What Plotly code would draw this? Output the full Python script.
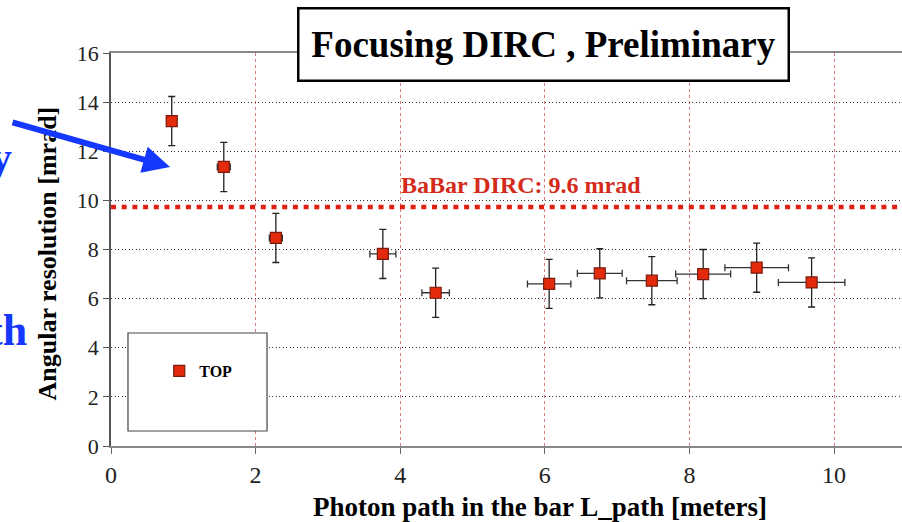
import plotly.graph_objects as go

# ---- data ----
path_len = [0.84, 1.56, 2.28, 3.76, 4.49, 6.06, 6.76, 7.48, 8.19, 8.93, 9.69]
resolution = [13.23, 11.36, 8.47, 7.82, 6.24, 6.60, 7.03, 6.73, 7.00, 7.26, 6.66]
res_err = [1.0, 1.0, 1.0, 1.0, 1.0, 1.0, 1.0, 0.98, 1.0, 1.0, 1.0]
path_err = [0.0, 0.09, 0.09, 0.18, 0.19, 0.30, 0.31, 0.35, 0.38, 0.44, 0.46]
babar_level = 9.73
x_ticks = [0, 2, 4, 6, 8, 10]
y_ticks = [0, 2, 4, 6, 8, 10, 12, 14, 16]

SERIF = "Liberation Serif, Times New Roman, serif"
RED = "#e42a0c"
BLUE = "#1538ff"

fig = go.Figure()
fig.add_trace(go.Scatter(
    x=path_len, y=resolution, mode="markers", name="TOP",
    marker=dict(symbol="square", size=11, color=RED,
                line=dict(color="#7a1a0a", width=1.2)),
    error_y=dict(type="data", array=res_err, color="#222", thickness=1.3, width=3.5),
    error_x=dict(type="data", array=path_err, color="#333", thickness=1.3, width=3.5),
))

# BaBar reference line
fig.add_shape(type="line", xref="paper", yref="y", x0=0, x1=1,
              y0=babar_level, y1=babar_level,
              line=dict(color="#e02010", width=4.5, dash="5px,5.7px"))
fig.add_annotation(xref="x", yref="y", x=5.67, y=10.63, showarrow=False,
                   text="<b>BaBar DIRC: 9.6 mrad</b>",
                   font=dict(family=SERIF, size=24, color="#d42a1a"))

# legend frame
fig.add_shape(type="rect", xref="x", yref="y", x0=0.235, x1=2.158, y0=0.61, y1=4.60,
              line=dict(color="#444", width=1.2), fillcolor="white", layer="above")

# title box
fig.add_annotation(xref="paper", yref="paper", x=0.5474, y=1.0216,
                   xanchor="center", yanchor="middle", showarrow=False,
                   text="<b>Focusing DIRC , Preliminary</b>",
                   font=dict(family=SERIF, size=37, color="black"),
                   bgcolor="white", bordercolor="black", borderwidth=2.5,
                   width=488, height=70, borderpad=0)

# axis titles
fig.add_annotation(xref="paper", yref="paper", x=-0.0809, y=0.49,
                   xanchor="center", yanchor="middle", showarrow=False, textangle=-90,
                   text="<b>Angular resolution [mrad]</b>",
                   font=dict(family=SERIF, size=26, color="black"))
fig.add_annotation(xref="paper", yref="paper", x=0.5424, y=-0.1552,
                   xanchor="center", yanchor="middle", showarrow=False,
                   text="<b>Photon path in the bar L_path [meters]</b>",
                   font=dict(family=SERIF, size=27, color="black"))

# blue slide fragments and arrow
fig.add_annotation(xref="paper", yref="paper", x=-0.1220, y=0.734,
                   xanchor="right", yanchor="middle", showarrow=False,
                   text="<b>y</b>", font=dict(family=SERIF, size=44, color=BLUE))
fig.add_annotation(xref="paper", yref="paper", x=-0.1037, y=0.295,
                   xanchor="right", yanchor="middle", showarrow=False,
                   text="<b>th</b>", font=dict(family=SERIF, size=44, color=BLUE))
fig.add_annotation(xref="paper", yref="paper", x=0.0746, y=0.7099,
                   ax=-159, ay=-45, text="", showarrow=True,
                   arrowhead=2, arrowsize=0.9, arrowwidth=6, arrowcolor=BLUE)

fig.update_layout(
    width=902, height=522,
    margin=dict(l=111, r=0, t=53, b=76),
    paper_bgcolor="white", plot_bgcolor="white",
    showlegend=True,
    legend=dict(x=0.061, y=0.191, xanchor="left", yanchor="middle",
                bgcolor="rgba(0,0,0,0)", borderwidth=0, itemwidth=30,
                font=dict(family=SERIF, size=16, color="black", weight="bold")),
    font=dict(family=SERIF),
)
fig.update_xaxes(range=[0, 10.94], tickvals=x_ticks, ticktext=[str(v) for v in x_ticks],
                 showline=True, linecolor="#888", linewidth=2, mirror=True,
                 ticks="outside", ticklen=6, tickcolor="#666",
                 showgrid=True, gridcolor="#e07a7a", griddash="dot", gridwidth=1,
                 zeroline=False, tickfont=dict(family=SERIF, size=24, color="#222"))
fig.update_yaxes(range=[0, 16], tickvals=y_ticks, ticktext=[str(v) for v in y_ticks],
                 showline=True, linecolor="#555", linewidth=1.5,
                 ticks="outside", ticklen=6, tickcolor="#555",
                 showgrid=True, gridcolor="#333", griddash="1px,2.5px", gridwidth=1,
                 zeroline=False, tickfont=dict(family=SERIF, size=22, color="#222"))

fig.write_html("out.html")
